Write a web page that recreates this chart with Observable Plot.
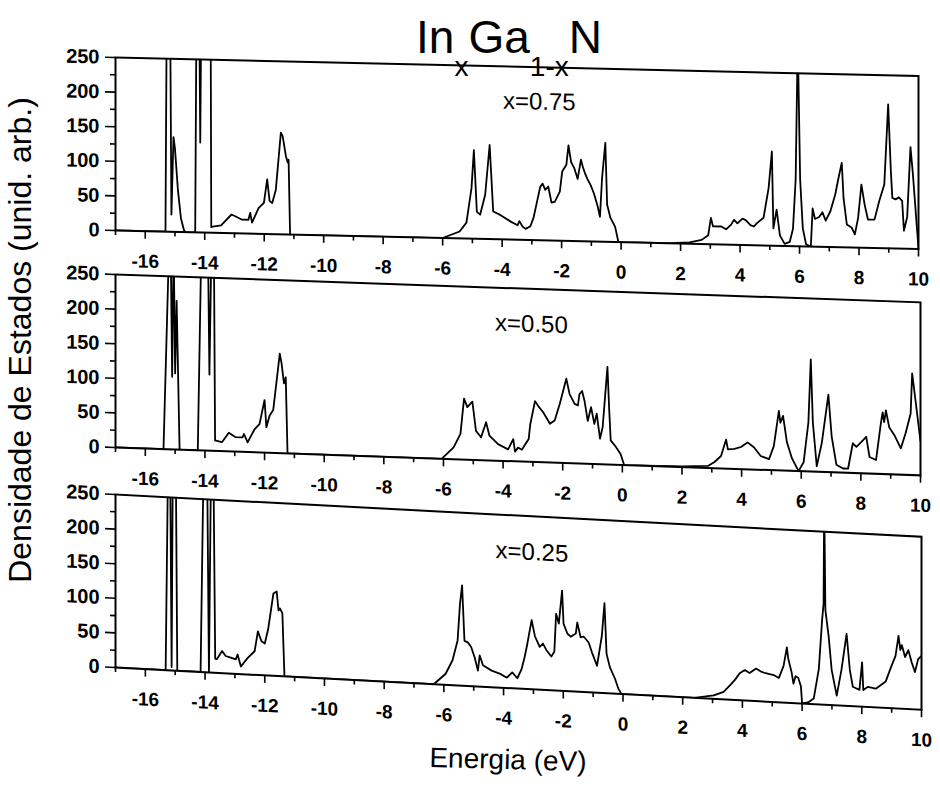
<!DOCTYPE html>
<html>
<head>
<meta charset="utf-8">
<script src="https://cdn.jsdelivr.net/npm/d3@7"></script>
<script src="https://cdn.jsdelivr.net/npm/@observablehq/plot@0.6"></script>
<style>
  body { margin: 0; background: #fff; }
  #fig { position: relative; width: 940px; height: 789px; overflow: hidden; background: #fff;
         font-family: "Liberation Sans", Arial, sans-serif; color: #000; }
  .panel { position: absolute; left: 0; transform-origin: 115px 0; }
  #title { position: absolute; left: 509px; top: 14px; transform: translateX(-50%);
           font-family: "Liberation Sans Narrow", "Arial Narrow", "Liberation Sans", sans-serif;
           font-size: 46px; line-height: 46px; white-space: nowrap; }
  #title sub { font-size: 28px; vertical-align: -23px; line-height: 0; }
  #ylabel { position: absolute; left: -280px; top: 324px; width: 600px; text-align: center;
            font-size: 32px; line-height: 32px; transform: rotate(-90deg); white-space: nowrap; }
  #xlabel { position: absolute; left: 508px; top: 746px; transform: translateX(-50%) rotate(1.5deg);
            font-size: 28px; line-height: 28px; white-space: nowrap; }
</style>
</head>
<body>
<div id="fig">
  <div id="title">In<sub>x</sub>Ga<sub>1-x</sub>N</div>
  <div id="ylabel">Densidade de Estados (unid. arb.)</div>
  <div id="xlabel">Energia (eV)</div>
</div>
<script>
// Energy axis ticks (eV) and DOS axis ticks (arb. units)
const xMajor = [-16, -14, -12, -10, -8, -6, -4, -2, 0, 2, 4, 6, 8, 10];
const xMinor = [-17, -15, -13, -11, -9, -7, -5, -3, -1, 1, 3, 5, 7, 9];
const yMajor = [0, 50, 100, 150, 200, 250];
const yMinor = [25, 75, 125, 175, 225];

// Density of states, [energy (eV), DOS] — In0.75Ga0.25N
const dos75 = [
  [-17,0],[-15.32,0],[-15.28,300],[-15.16,300],[-15.12,25],[-15.05,137],[-15.0,120],[-14.9,60],[-14.8,20],[-14.7,3],[-14.65,0],
  [-14.32,0],[-14.28,300],[-14.18,300],[-14.15,130],[-14.12,300],[-13.8,300],[-13.78,8],
  [-13.73,9],[-13.45,11],[-13.1,27],[-12.99,25],[-12.76,20],[-12.53,20],[-12.47,30],[-12.41,16],[-12.19,37],[-12.01,45],
  [-11.9,79],[-11.82,48],[-11.73,45],[-11.61,64],[-11.44,147],[-11.38,142],[-11.27,113],[-11.21,104],[-11.18,108],[-11.13,0],
  [-6.0,0],[-5.89,2],[-5.43,10],[-5.2,23],[-5.03,73],[-4.95,128],[-4.85,39],[-4.74,35],[-4.57,64],[-4.42,136],[-4.3,40],
  [-4.05,35],[-3.71,26],[-3.48,21],[-3.42,27],[-3.31,19],[-3.21,16],[-3.05,20],[-2.94,33],[-2.83,55],[-2.72,77],[-2.64,82],
  [-2.55,73],[-2.45,78],[-2.34,55],[-2.23,56],[-2.06,71],[-1.98,100],[-1.84,110],[-1.77,138],[-1.68,114],[-1.57,105],
  [-1.46,90],[-1.35,118],[-1.29,108],[-1.22,99],[-1.13,90],[-1.02,81],[-0.91,69],[-0.8,53],[-0.71,36],[-0.64,92],[-0.53,143],
  [-0.47,54],[-0.36,35],[-0.2,22],[-0.09,0],
  [1.6,0],[2.3,2],[2.71,6],[2.93,13],[3.02,38],[3.09,26],[3.37,26],[3.53,22],[3.7,29],[3.8,36],[3.91,31],[4.08,38],[4.19,36],
  [4.35,29],[4.46,27],[4.57,32],[4.79,40],[4.96,83],[5.07,136],[5.12,25],[5.23,52],[5.34,15],[5.5,3],[5.67,6],[5.78,25],
  [5.87,97],[5.94,300],[6.02,97],[6.11,26],[6.22,3],[6.38,0],[6.44,55],[6.52,40],[6.66,43],[6.77,50],[6.88,38],[7.04,52],
  [7.2,76],[7.31,100],[7.42,122],[7.48,71],[7.59,33],[7.75,29],[7.86,19],[7.97,43],[8.08,91],[8.19,62],[8.3,41],[8.52,41],
  [8.68,68],[8.85,92],[8.98,208],[9.07,112],[9.12,73],[9.23,71],[9.34,74],[9.45,69],[9.51,26],[9.62,46],[9.73,147],[9.81,109],
  [9.95,29],[10,0]
];

// In0.50Ga0.50N
const dos50 = [
  [-17,0],[-15.39,0],[-15.2,300],[-15.15,300],[-15.1,105],[-15.05,300],[-15.0,110],[-14.95,215],[-14.85,0],
  [-14.24,0],[-14.12,300],[-13.9,300],[-13.85,110],[-13.78,300],[-13.7,300],[-13.66,15],
  [-13.63,15],[-13.43,13],[-13.2,27],[-12.97,21],[-12.74,21],[-12.69,26],[-12.57,14],[-12.34,33],[-12.17,41],[-12.0,76],
  [-11.94,37],[-11.83,54],[-11.71,62],[-11.49,144],[-11.43,130],[-11.35,101],[-11.29,110],[-11.23,0],
  [-6.06,0],[-5.66,17],[-5.43,37],[-5.31,88],[-5.2,76],[-5.03,84],[-4.91,42],[-4.74,33],[-4.57,55],[-4.46,36],[-4.17,24],
  [-3.83,17],[-3.66,32],[-3.6,14],[-3.5,20],[-3.37,17],[-3.26,25],[-3.14,33],[-3.09,54],[-2.93,88],[-2.82,81],[-2.65,72],
  [-2.43,56],[-2.27,61],[-2.1,85],[-1.88,122],[-1.77,100],[-1.6,86],[-1.49,84],[-1.44,100],[-1.35,105],[-1.27,91],[-1.16,62],
  [-1.05,82],[-0.94,58],[-0.86,73],[-0.75,37],[-0.66,54],[-0.5,141],[-0.44,78],[-0.39,35],[-0.22,26],[-0.06,16],[0.06,0],
  [1.99,1],[2.87,3],[3.09,9],[3.31,18],[3.48,42],[3.54,28],[3.76,29],[3.98,32],[4.2,39],[4.42,32],[4.64,20],[4.92,16],
  [5.08,35],[5.25,86],[5.3,69],[5.39,79],[5.52,41],[5.69,18],[5.91,0],[6.08,13],[6.24,71],[6.32,162],[6.39,71],[6.52,8],
  [6.69,42],[6.91,112],[7.02,52],[7.18,11],[7.4,6],[7.57,6],[7.73,43],[7.85,38],[8.01,45],[8.18,53],[8.29,24],[8.51,20],
  [8.67,73],[8.73,89],[8.78,75],[8.84,92],[8.95,68],[9.12,57],[9.34,38],[9.5,60],[9.67,89],[9.72,147],[9.83,109],[10,49]
];

// In0.25Ga0.75N
const dos25 = [
  [-17,0],[-15.32,0],[-15.24,300],[-15.17,300],[-15.12,5],[-15.08,300],[-14.98,300],[-14.93,0],
  [-14.15,0],[-14.05,300],[-13.93,300],[-13.87,0],[-13.8,300],[-13.72,300],[-13.66,20],
  [-13.6,20],[-13.43,32],[-13.31,25],[-13.14,23],[-12.97,21],[-12.91,28],[-12.8,11],[-12.57,24],[-12.34,34],[-12.23,63],
  [-12.11,49],[-12.0,46],[-11.89,66],[-11.71,119],[-11.6,122],[-11.54,95],[-11.49,98],[-11.41,91],[-11.34,0],
  [-6.34,0],[-5.94,16],[-5.71,36],[-5.54,65],[-5.46,118],[-5.39,145],[-5.31,65],[-5.2,63],[-5.09,57],[-4.97,42],[-4.86,23],
  [-4.8,45],[-4.69,31],[-4.4,24],[-4.11,20],[-3.89,15],[-3.71,23],[-3.54,15],[-3.4,28],[-3.3,45],[-3.22,62],[-3.06,100],
  [-2.95,77],[-2.79,62],[-2.68,67],[-2.57,58],[-2.4,49],[-2.3,56],[-2.24,111],[-2.15,97],[-2.04,145],[-1.99,97],[-1.86,83],
  [-1.75,79],[-1.58,84],[-1.53,100],[-1.42,79],[-1.31,80],[-1.15,72],[-1.04,58],[-0.87,39],[-0.71,82],[-0.62,130],[-0.55,57],
  [-0.44,38],[-0.27,22],[-0.16,8],[-0.05,0],
  [2.39,0],[3.04,5],[3.37,11],[3.59,21],[3.75,29],[3.91,39],[4.08,44],[4.24,40],[4.46,47],[4.62,43],[4.78,41],[5.05,39],
  [5.22,35],[5.38,53],[5.49,80],[5.54,63],[5.65,44],[5.71,28],[5.78,39],[5.87,37],[5.96,25],[6.0,0],[6.2,2],[6.39,8],
  [6.56,51],[6.67,122],[6.72,146],[6.74,300],[6.78,137],[6.89,99],[6.99,51],[7.16,14],[7.32,52],[7.49,104],[7.6,52],[7.7,28],
  [7.92,24],[8.01,64],[8.05,24],[8.2,29],[8.47,27],[8.8,38],[8.96,57],[9.13,76],[9.23,105],[9.29,85],[9.34,92],[9.45,75],
  [9.56,85],[9.67,68],[9.78,54],[9.89,73],[10,78]
];

// Composition labels and where each sits inside its panel
const panelLabels = ["x=0.75", "x=0.50", "x=0.25"];
const labelEnergy = [-2.75, -3.05, -3.05];
const labelDos = [200, 199, 198];

const fmt = d => String(d);

function panel(data, i, top, marginRight, skewDeg) {
  const chart = Plot.plot({
    width: 940,
    height: 225,
    marginLeft: 115,
    marginRight,
    marginTop: 12,
    marginBottom: 40,
    x: {domain: [-17, 10]},
    y: {domain: [0, 250]},
    style: {
      background: "transparent",
      overflow: "visible",
      fontFamily: "'Liberation Sans', Arial, sans-serif",
      fontSize: "19px",
      fontWeight: "bold",
      color: "#000"
    },
    marks: [
      Plot.axisY({ticks: yMajor, tickSize: 10, tickPadding: 6, tickFormat: fmt, label: null, strokeWidth: 1.6, fontSize: 20}),
      Plot.axisY({ticks: yMinor, tickSize: 5, tickFormat: () => "", label: null, strokeWidth: 1.6}),
      Plot.axisX({ticks: xMajor, tickSize: 8, tickPadding: 15, tickFormat: fmt, label: null, strokeWidth: 1.6}),
      Plot.axisX({ticks: xMinor, tickSize: 5, tickFormat: () => "", label: null, strokeWidth: 1.6}),
      Plot.line(data, {x: d => d[0], y: d => d[1], stroke: "#000", strokeWidth: 1.8, clip: true}),
      Plot.frame({stroke: "#000", strokeWidth: 2}),
      Plot.text([panelLabels[i]], {
        x: () => labelEnergy[i], y: () => labelDos[i], text: d => d,
        fontSize: 24, fontWeight: "normal", fill: "#000"
      })
    ]
  });
  chart.classList.add("panel");
  chart.style.top = top + "px";
  chart.style.transform = `skewY(${skewDeg}deg)`;
  document.getElementById("fig").appendChild(chart);
}

panel(dos75, 0, 45, 22, 1.32);
panel(dos50, 1, 262, 20, 1.98);
panel(dos25, 2, 482, 19, 3.0);
</script>
</body>
</html>
